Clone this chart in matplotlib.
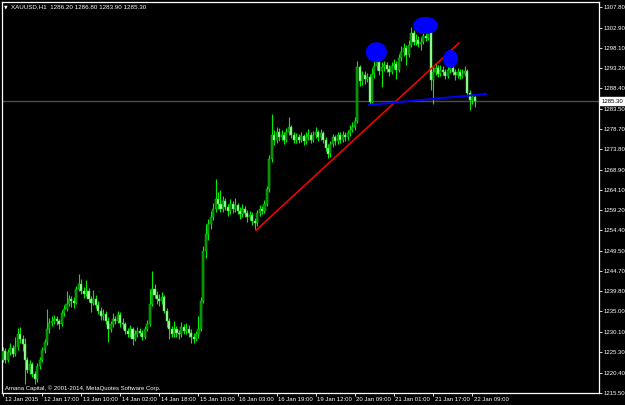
import matplotlib
matplotlib.use("Agg")
import matplotlib.pyplot as plt
import matplotlib.transforms as mtransforms
from matplotlib.patches import Ellipse
import numpy as np

# XAUUSD H1 bars, 12 Jan 2015 00:00 -> 22 Jan 2015
opens = [1223.5,1225.6,1223.4,1225.2,1226.3,1224.8,1226.4,1229.6,1228.3,1227.3,
         1223.3,1221.0,1222.4,1220.0,1218.9,1222.0,1223.5,1225.8,1227.6,1230.8,
         1232.3,1232.8,1233.3,1232.6,1232.1,1234.7,1235.7,1236.9,1238.0,1237.6,
         1237.1,1240.4,1241.6,1240.0,1239.2,1240.0,1238.0,1237.1,1238.0,1236.6,
         1235.2,1233.8,1234.5,1232.8,1230.9,1231.9,1233.3,1232.8,1234.2,1232.3,
         1231.9,1230.4,1229.5,1230.9,1228.5,1229.7,1230.4,1229.9,1229.0,1230.9,
         1232.1,1236.9,1240.4,1239.0,1238.0,1237.6,1238.5,1235.2,1232.8,1230.9,
         1229.7,1230.9,1229.9,1229.5,1231.4,1230.4,1230.9,1229.9,1229.0,1228.5,
         1229.5,1230.9,1237.6,1249.5,1253.5,1255.9,1257.6,1259.5,1261.9,1260.7,
         1259.5,1261.4,1260.0,1259.0,1260.7,1259.5,1260.4,1259.0,1258.3,1259.5,
         1258.5,1257.6,1258.0,1256.6,1256.1,1258.5,1259.5,1259.0,1260.7,1264.2,
         1271.4,1277.3,1276.1,1278.0,1276.6,1277.3,1276.1,1277.8,1279.0,1277.3,
         1276.1,1276.6,1276.1,1276.9,1275.7,1276.6,1277.3,1276.1,1277.1,1277.8,
         1276.6,1277.6,1276.1,1274.2,1272.6,1275.0,1276.6,1275.7,1277.1,1276.1,
         1277.3,1276.6,1277.6,1278.5,1279.0,1280.5,1293.5,1290.0,1291.6,1290.5,
         1291.1,1285.1,1291.8,1293.6,1294.7,1292.4,1293.4,1294.0,1293.0,1292.3,
         1293.8,1294.2,1292.8,1295.7,1297.1,1298.0,1296.4,1298.8,1301.5,1299.5,
         1300.0,1299.0,1299.5,1300.9,1300.4,1302.2,1290.4,1292.3,1293.3,1291.9,
         1292.8,1292.3,1291.4,1292.8,1293.3,1292.3,1291.6,1292.3,1291.4,1291.9,
         1292.5,1287.2,1285.5,1286.2]
highs = [1226.4,1226.2,1226.0,1227.4,1226.9,1228.8,1231.0,1231.2,1229.4,1228.6,
         1224.0,1223.3,1223.0,1220.8,1222.6,1224.2,1226.5,1228.4,1235.6,1233.5,
         1233.9,1234.2,1234.0,1233.2,1235.3,1236.6,1240.0,1239.0,1238.7,1238.4,
         1241.2,1244.0,1242.8,1240.9,1242.5,1240.6,1238.8,1240.2,1238.9,1237.4,
         1236.1,1235.6,1235.2,1233.6,1232.8,1234.6,1234.0,1235.0,1234.8,1233.5,
         1232.4,1231.1,1231.8,1231.4,1230.6,1231.3,1231.0,1230.5,1231.6,1233.0,
         1240.3,1244.7,1241.5,1240.0,1239.2,1239.6,1239.0,1235.8,1233.4,1231.6,
         1232.8,1231.5,1230.6,1232.5,1232.0,1232.2,1231.8,1230.7,1229.8,1230.4,
         1233.8,1238.4,1250.6,1255.8,1257.2,1259.0,1261.0,1266.6,1263.5,1264.0,
         1262.6,1262.1,1260.8,1261.9,1261.4,1262.2,1261.0,1259.9,1260.8,1260.2,
         1259.3,1259.1,1258.7,1257.4,1259.2,1260.4,1260.3,1261.6,1265.0,1272.3,
         1282.1,1278.5,1279.0,1278.8,1278.4,1277.9,1278.9,1281.6,1279.6,1278.0,
         1277.7,1277.5,1278.0,1277.4,1277.8,1278.6,1277.9,1278.1,1279.2,1278.4,
         1278.6,1278.1,1276.6,1275.0,1275.8,1277.4,1277.3,1278.0,1277.8,1278.2,
         1278.0,1278.5,1279.5,1280.4,1281.5,1294.8,1294.0,1292.5,1292.4,1292.0,
         1291.7,1293.2,1297.6,1295.6,1295.5,1294.6,1295.0,1294.7,1293.9,1294.7,
         1295.4,1294.9,1296.6,1298.4,1299.2,1298.7,1299.9,1303.0,1302.2,1301.3,
         1300.8,1300.6,1302.0,1303.5,1304.9,1302.8,1293.5,1294.3,1294.0,1293.9,
         1293.6,1293.0,1293.8,1294.5,1294.6,1293.0,1293.2,1292.9,1292.9,1293.6,
         1293.0,1287.9,1287.0,1286.8]
lows = [1222.8,1222.6,1222.9,1224.6,1224.0,1224.3,1225.9,1227.5,1225.6,1217.6,
        1220.2,1220.0,1219.4,1217.6,1218.2,1221.3,1222.8,1225.0,1227.0,1229.8,
        1231.5,1232.0,1231.8,1230.9,1231.6,1234.0,1235.2,1236.3,1236.0,1235.8,
        1236.8,1239.8,1239.2,1238.3,1238.6,1237.2,1234.9,1236.5,1235.8,1234.5,
        1233.0,1232.9,1232.0,1227.6,1230.2,1231.2,1232.0,1232.3,1231.4,1230.7,
        1229.6,1228.8,1228.9,1227.0,1227.9,1229.0,1229.1,1228.2,1228.5,1230.4,
        1231.6,1236.3,1238.1,1236.9,1236.4,1236.8,1234.6,1231.4,1228.5,1228.8,
        1229.0,1229.0,1228.4,1228.9,1229.6,1229.7,1229.0,1227.5,1227.4,1227.9,
        1228.7,1230.3,1237.0,1247.8,1252.0,1254.8,1256.9,1258.7,1259.6,1258.8,
        1258.9,1259.2,1257.8,1258.4,1258.6,1258.9,1258.2,1257.0,1257.7,1257.6,
        1256.5,1256.8,1255.6,1254.8,1255.5,1257.9,1258.2,1258.5,1260.1,1263.6,
        1270.8,1274.9,1275.4,1275.7,1275.9,1275.0,1275.6,1277.2,1276.4,1275.2,
        1275.4,1275.2,1275.5,1274.8,1275.0,1276.0,1275.3,1275.6,1276.5,1275.8,
        1276.0,1275.3,1273.4,1271.8,1272.0,1274.4,1274.8,1275.1,1275.4,1275.5,
        1275.8,1276.0,1276.9,1277.8,1278.4,1280.0,1289.0,1289.2,1289.5,1289.8,
        1284.6,1284.8,1290.9,1292.8,1291.5,1288.7,1292.6,1292.2,1291.2,1291.8,
        1292.9,1290.5,1292.2,1295.0,1296.2,1294.0,1295.9,1298.2,1298.6,1298.7,
        1298.2,1297.5,1298.9,1299.6,1299.8,1288.0,1284.6,1291.6,1291.0,1291.2,
        1291.5,1290.5,1290.8,1292.0,1291.5,1290.4,1290.9,1290.6,1290.9,1291.2,
        1286.6,1283.1,1284.6,1283.9]
closes = [1225.6,1223.4,1225.2,1226.3,1224.8,1226.4,1229.6,1228.3,1227.3,1223.3,
          1221.0,1222.4,1220.0,1218.9,1222.0,1223.5,1225.8,1227.6,1230.8,1232.3,
          1232.8,1233.3,1232.6,1232.1,1234.7,1235.7,1236.9,1238.0,1237.6,1237.1,
          1240.4,1241.6,1240.0,1239.2,1240.0,1238.0,1237.1,1238.0,1236.6,1235.2,
          1233.8,1234.5,1232.8,1230.9,1231.9,1233.3,1232.8,1234.2,1232.3,1231.9,
          1230.4,1229.5,1230.9,1228.5,1229.7,1230.4,1229.9,1229.0,1230.9,1232.1,
          1236.9,1240.4,1239.0,1238.0,1237.6,1238.5,1235.2,1232.8,1230.9,1229.7,
          1230.9,1229.9,1229.5,1231.4,1230.4,1230.9,1229.9,1229.0,1228.5,1229.5,
          1230.9,1237.6,1249.5,1253.5,1255.9,1257.6,1259.5,1261.9,1260.7,1259.5,
          1261.4,1260.0,1259.0,1260.7,1259.5,1260.4,1259.0,1258.3,1259.5,1258.5,
          1257.6,1258.0,1256.6,1256.1,1258.5,1259.5,1259.0,1260.7,1264.2,1271.4,
          1277.3,1276.1,1278.0,1276.6,1277.3,1276.1,1277.8,1279.0,1277.3,1276.1,
          1276.6,1276.1,1276.9,1275.7,1276.6,1277.3,1276.1,1277.1,1277.8,1276.6,
          1277.6,1276.1,1274.2,1272.6,1275.0,1276.6,1275.7,1277.1,1276.1,1277.3,
          1276.6,1277.6,1278.5,1279.0,1280.5,1293.5,1290.0,1291.6,1290.5,1291.1,
          1285.1,1291.8,1293.6,1294.7,1292.4,1293.4,1294.0,1293.0,1292.3,1293.8,
          1294.2,1292.8,1295.7,1297.1,1298.0,1296.4,1298.8,1301.5,1299.5,1300.0,
          1299.0,1299.5,1300.9,1300.4,1302.2,1290.4,1292.3,1293.3,1291.9,1292.8,
          1292.3,1291.4,1292.8,1293.3,1292.3,1291.6,1292.3,1291.4,1291.9,1292.5,
          1287.2,1285.5,1286.2,1285.3]

date_labels = ["12 Jan 2015", "12 Jan 17:00", "13 Jan 10:00", "14 Jan 02:00",
               "14 Jan 18:00", "15 Jan 10:00", "16 Jan 03:00", "16 Jan 19:00",
               "19 Jan 12:00", "20 Jan 09:00", "21 Jan 01:00", "21 Jan 17:00",
               "22 Jan 09:00"]
price_ticks = [1307.80, 1302.90, 1298.10, 1293.20, 1288.40, 1283.50, 1278.70,
               1273.80, 1268.90, 1264.10, 1259.20, 1254.40, 1249.50, 1244.70,
               1239.80, 1235.00, 1230.10, 1225.30, 1220.40, 1215.50]
last_price = 1285.30

# hand drawn objects (bar index, price)
red_line_x = [103.5, 186.6]
red_line_y = [1254.4, 1299.2]
blue_line_x = [149.8, 197.6]
blue_line_y = [1284.4, 1287.0]
blob_x = [152.8, 172.9, 183.1]
blob_y = [1297.0, 1303.4, 1295.4]
blob_w = [8.6, 10.2, 6.1]
blob_h = [4.8, 4.1, 4.3]

fam = ['Liberation Sans', 'DejaVu Sans']
fs = 4.3

fig = plt.figure(figsize=(6.25, 4.05), dpi=100, facecolor='black')
ax = fig.add_axes([2/625, 12/405, 597/625, 391/405])
ax.set_facecolor('black')

x = np.arange(len(closes))
o = np.array(opens)
c = np.array(closes)
up = c >= o

# wicks
ax.vlines(x, lows, highs, color='#00f000', linewidth=0.8, zorder=2)
# bodies: bull dark, bear light (MT4 green on black)
body_h = np.where(np.abs(c - o) < 0.2, 0.2, c - o)
ax.bar(x[up], body_h[up], bottom=o[up], width=0.85, color='#0a800a',
       edgecolor='#00d800', linewidth=0.35, zorder=3)
ax.bar(x[~up], body_h[~up], bottom=o[~up], width=0.85, color='#b8fab8',
       edgecolor='#22e022', linewidth=0.35, zorder=3)

# current price line
ax.axhline(last_price, color='#484d59', linewidth=1.0, zorder=1)

# trend lines and marks
ax.plot(red_line_x, red_line_y, color='#ff0000', linewidth=1.1, zorder=5)
ax.plot(blue_line_x, blue_line_y, color='#0000ff', linewidth=1.4, zorder=5)
for bx, by, bw, bh in zip(blob_x, blob_y, blob_w, blob_h):
    ax.add_patch(Ellipse((bx, by), bw, bh, facecolor='#0000ff', edgecolor='none', zorder=6))

ax.set_xlim(-0.41, 243.9)
ax.set_ylim(1215.5, 1309.0)

for s in ax.spines.values():
    s.set_color('white')
    s.set_linewidth(0.9)

ax.yaxis.tick_right()
ax.set_yticks(price_ticks)
ax.set_yticklabels(['%.2f' % p for p in price_ticks], family=fam, fontsize=fs, color='white')
ax.tick_params(axis='y', direction='out', length=2, width=0.6, color='white', pad=1)

ax.set_xticks(np.arange(len(date_labels)) * 16)
ax.set_xticklabels(date_labels, family=fam, fontsize=fs, color='white')
ax.tick_params(axis='x', direction='out', length=2.5, width=0.6, color='white', pad=0.5)
shift = mtransforms.ScaledTranslation(1.5/100, 0, fig.dpi_scale_trans)
for lbl in ax.get_xticklabels():
    lbl.set_horizontalalignment('left')
    lbl.set_transform(lbl.get_transform() + shift)

# last price box on the price scale
trans = mtransforms.blended_transform_factory(ax.transAxes, ax.transData)
ax.text(1.0045, last_price, '%.2f' % last_price, transform=trans, ha='left', va='center',
        family=fam, fontsize=fs, color='black', clip_on=False, zorder=10,
        bbox=dict(boxstyle='square,pad=0.2', facecolor='white', edgecolor='white'))

# header and copyright
fig.text(4/625, 1 - 7/405, '\u25bc', family=['DejaVu Sans'], fontsize=3.4, color='white', va='center')
fig.text(11/625, 1 - 7/405, 'XAUUSD,H1  1286.20 1286.80 1283.90 1285.30',
         family=fam, fontsize=4.5, color='white', va='center')
ax.text(3/597, 5/391, 'Amana Capital, \u00a9 2001-2014, MetaQuotes Software Corp.',
        transform=ax.transAxes, family=fam, fontsize=4.3, color='white', va='center')

fig.savefig('out.png', dpi=100, facecolor='black')
